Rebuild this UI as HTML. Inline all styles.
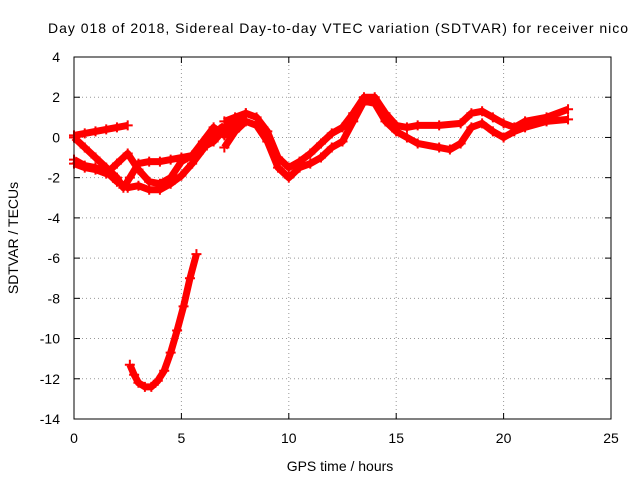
<!DOCTYPE html>
<html><head><meta charset="utf-8"><style>
body{margin:0;background:#fff}
svg text{font-family:"Liberation Sans",sans-serif;font-size:14px;fill:#000}
</style></head><body>
<svg id="chart" width="640" height="480">
<text x="48" y="33" textLength="580" lengthAdjust="spacing">Day 018 of 2018, Sidereal Day-to-day VTEC variation (SDTVAR) for receiver nico</text>
<text x="340" y="471" text-anchor="middle">GPS time / hours</text>
<text transform="translate(18,238) rotate(-90)" text-anchor="middle">SDTVAR / TECUs</text>
<g id="grid"></g><g id="ticks"></g><g id="marks"></g>
<rect x="74" y="57" width="537" height="362" fill="none" stroke="#000"/>
</svg>
<script>
const xTicks=[0,5,10,15,20,25];
const yTicks=[4,2,0,-2,-4,-6,-8,-10,-12,-14];
const track1=[[0,0.1],[0.5,0.2],[1,0.3],[1.5,0.4],[2,0.5],[2.5,0.6]];
const track2=[[0,-1.1],[0.5,-1.4],[1,-1.5],[1.5,-1.7],[2,-2.2],[2.5,-2.5],[3,-2.4],[3.5,-2.6],[4,-2.6],[4.5,-2.3],[5,-1.9],[5.5,-1.3],[6,-0.6],[6.5,0.2],[7,0.6]];
const track3=[[0,0],[0.5,-0.5],[1,-1.0],[1.5,-1.5],[2,-2.0],[2.3,-2.5],[2.6,-2],[3,-1.3],[3.5,-1.2],[4,-1.2],[4.5,-1.1],[5,-1.0],[5.5,-0.9],[6,-0.5],[6.5,-0.2],[7,0.4],[7.5,0.9]];
const track4=[[0,-1.3],[0.5,-1.5],[1,-1.6],[1.5,-1.8],[2,-1.3],[2.5,-0.8],[3,-1.6],[3.5,-2.2],[4,-2.3],[4.5,-2.0],[5,-1.2],[5.5,-0.9],[6,-0.2],[6.5,0.5],[7,0.1],[7.5,0.7],[8,1.2]];
const main1=[[7,0.8],[7.5,1.0],[8,1.2],[8.5,1.0],[9,0.3],[9.5,-1.0],[10,-1.5],[10.5,-1.2],[11,-0.8],[11.5,-0.3],[12,0.2],[12.5,0.5],[13,1.2],[13.5,2.0],[14,2.0],[14.5,1.2],[15,0.6],[15.5,0.5],[16,0.6],[17,0.6],[18,0.7],[18.5,1.2],[19,1.3],[19.5,1.0],[20,0.7],[20.5,0.5],[21,0.8],[22,1.0],[23,1.4]];
const main2=[[7,-0.5],[7.5,0.3],[8,0.8],[8.5,0.6],[9,-0.2],[9.5,-1.5],[10,-2.0],[10.5,-1.5],[11,-1.3],[11.5,-1.0],[12,-0.5],[12.5,-0.2],[13,0.8],[13.5,1.8],[14,1.7],[14.5,0.8],[15,0.3],[15.5,0.0],[16,-0.3],[17,-0.5],[17.5,-0.6],[18,-0.3],[18.5,0.5],[19,0.7],[19.5,0.3],[20,0.0],[20.5,0.3],[21,0.5],[22,0.8],[23,0.9]];
const lowTrack=[[2.6,-11.3],[2.8,-11.8],[3,-12.2],[3.3,-12.4],[3.6,-12.4],[3.9,-12.1],[4.2,-11.6],[4.5,-10.7],[4.8,-9.6],[5.1,-8.4],[5.4,-7.0],[5.7,-5.8]];
const X=h=>74+h*537/25, Y=v=>57+(4-v)*362/18;
const NS='http://www.w3.org/2000/svg';
function mk(t,a,p){const e=document.createElementNS(NS,t);for(const k in a)e.setAttribute(k,a[k]);document.getElementById(p).appendChild(e);return e;}
xTicks.forEach(t=>{
 if(t>0&&t<25){const g=mk('line',{x1:X(t),x2:X(t),y1:57,y2:419,stroke:'#999','stroke-dasharray':'1,3'},'grid');
 
 }
 mk('line',{x1:X(t),x2:X(t),y1:419,y2:413,stroke:'#000'},'ticks');mk('line',{x1:X(t),x2:X(t),y1:57,y2:63,stroke:'#000'},'ticks');
 const l=mk('text',{x:X(t),y:443,'text-anchor':'middle'},'ticks');l.textContent=t;
 
 
});
yTicks.forEach(t=>{
 if(t<4&&t>-14){const g=mk('line',{x1:74,x2:611,y1:Y(t),y2:Y(t),stroke:'#999','stroke-dasharray':'1,3'},'grid');
 
 }
 mk('line',{x1:74,x2:80,y1:Y(t),y2:Y(t),stroke:'#000'},'ticks');mk('line',{x1:605,x2:611,y1:Y(t),y2:Y(t),stroke:'#000'},'ticks');
 const l=mk('text',{x:60,y:Y(t)+5,'text-anchor':'end'},'ticks');l.textContent=t;
 
 
});
[track1,track2,track3,track4,main1,main2,lowTrack].forEach((s,i)=>{
 const p=mk('polyline',{points:s.map(d=>X(d[0])+','+Y(d[1])).join(' '),fill:'none',stroke:'#f00','stroke-width':7,'stroke-linejoin':'round'},'marks');
 
 
 s.forEach(d=>{const m=mk('path',{d:`M${X(d[0])-5},${Y(d[1])}h10M${X(d[0])},${Y(d[1])-5}v10`,stroke:'#f00','stroke-width':2},'marks');
 
 });
});
</script>
</body></html>
